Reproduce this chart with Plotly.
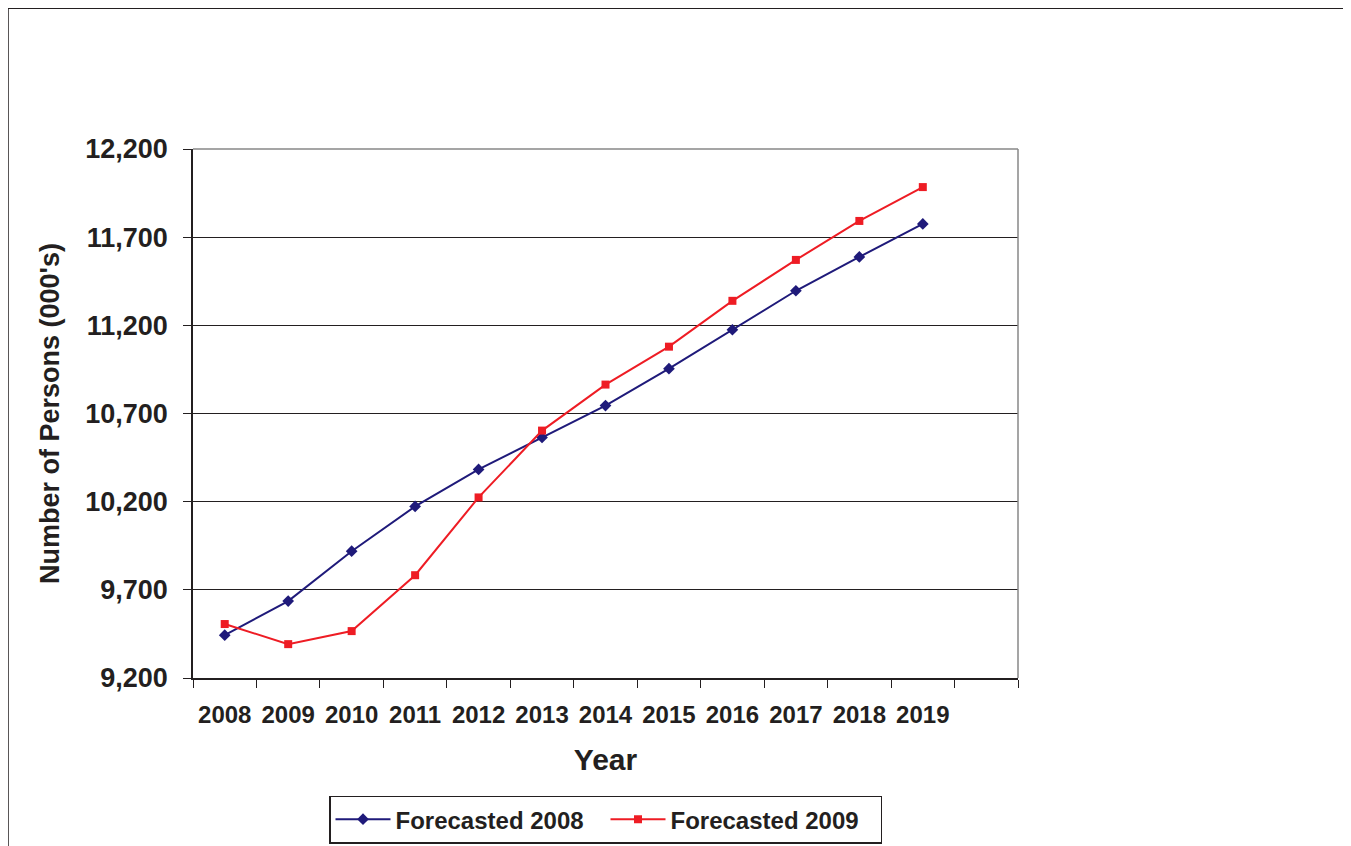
import plotly.graph_objects as go

years = list(range(2008, 2020))
forecast_2008 = [9443, 9636, 9919, 10173, 10383, 10564, 10745, 10954, 11175, 11396, 11588, 11775]
forecast_2009 = [9506, 9392, 9466, 9783, 10224, 10603, 10864, 11079, 11339, 11571, 11792, 11984]
y_ticks = [9200, 9700, 10200, 10700, 11200, 11700, 12200]

font = dict(family="Liberation Sans, Arial", color="#231f20")

fig = go.Figure()
fig.add_trace(go.Scatter(x=years, y=forecast_2008, name="Forecasted 2008", mode="lines+markers",
                         line=dict(color="#1f1a7a", width=2),
                         marker=dict(symbol="diamond", size=9, color="#1f1a7a")))
fig.add_trace(go.Scatter(x=years, y=forecast_2009, name="Forecasted 2009", mode="lines+markers",
                         line=dict(color="#ee1c24", width=2),
                         marker=dict(symbol="square", size=8, color="#ee1c24")))

fig.update_layout(
    width=1351, height=846, paper_bgcolor="white", plot_bgcolor="white",
    margin=dict(l=185, r=341, t=141, b=175),
    font=font,
    showlegend=True,
    legend=dict(orientation="h", x=0.5, xanchor="center", y=-0.22, yanchor="top",
                bordercolor="#231f20", borderwidth=1.5,
                font=dict(size=24, family="Liberation Sans, Arial", weight="bold"),
                entrywidth=205, itemwidth=55),
    xaxis=dict(range=[2007.5, 2020.5], tickvals=years, ticktext=[str(y) for y in years],
               ticks="", showgrid=False, showline=True, linecolor="#231f20", linewidth=1.5,
               tickfont=dict(size=24, weight="bold"), ticklabelstandoff=14,
               minor=dict(tickvals=[y - 0.5 for y in range(2008, 2022)], ticks="outside",
                          ticklen=8, tickcolor="#231f20", showgrid=False),
               title=dict(text="<b>Year</b>", font=dict(size=30), standoff=22)),
    yaxis=dict(range=[9200, 12200], tickvals=y_ticks, ticktext=[f"{v:,}" for v in y_ticks],
               showgrid=True, gridcolor="#231f20", gridwidth=1,
               showline=True, linecolor="#231f20", linewidth=1.5,
               ticks="outside", ticklen=8, tickcolor="#231f20",
               tickfont=dict(size=27, weight="bold"), ticklabelstandoff=10,
               title=dict(text="<b>Number of Persons (000's)</b>", font=dict(size=27), standoff=18)),
    shapes=[
        dict(type="rect", xref="paper", yref="paper", x0=1, x1=1, y0=0, y1=1,
             line=dict(color="#888888", width=1.5)),
        dict(type="rect", xref="paper", yref="paper", x0=0, x1=1, y0=1, y1=1,
             line=dict(color="#888888", width=1.5)),
        dict(type="rect", xref="paper", yref="paper",
             x0=(8 - 193) / 825, x1=(1345 - 193) / 825, y0=(679 - 860) / 530, y1=(679 - 8) / 530,
             line=dict(color="#231f20", width=1.5)),
    ],
)

fig.write_html("out.html")
